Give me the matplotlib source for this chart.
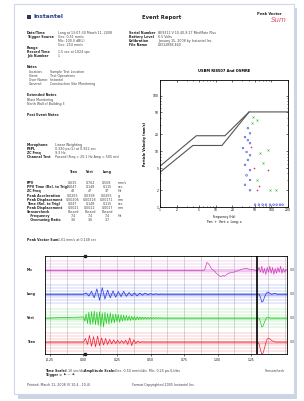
import numpy as np
import matplotlib.pyplot as plt
from matplotlib.patches import Rectangle

W, H = 304, 401

# ---- scatter (frequency Hz vs peak particle velocity mm/s)
tran_freq = [87, 44, 48, 55, 60]
tran_ppv = [4.6, 12.0, 5.0, 2.0, 2.4]
vert_freq = [47, 55, 45, 63, 87, 71, 55, 95, 120]
vert_ppv = [41, 36, 32, 9.3, 10.5, 6.1, 3.05, 2.0, 2.0]
long_freq = [38, 41.5, 33.7, 38, 41.5, 31, 36, 41.5, 38, 33.7, 41.5, 36, 41.5,
             33.7, 41.5, 51, 60, 70, 80, 95, 110, 125, 144, 160]
long_ppv = [26, 21, 18, 15.8, 14, 11.4, 9.7, 8.5, 7, 5.7, 4.6, 3.7, 3.05,
            2.5, 2.0, 1.1, 1.1, 1.1, 1.1, 1.1, 1.1, 1.1, 1.1, 1.1]

usbm_freq = [1, 4.5, 14.7, 40, 200]
usbm_ppv = [5.4, 19.0, 19.0, 50.8, 50.8]
plaster_freq = [1, 3.9, 13, 40]
plaster_ppv = [4.2, 12.7, 12.7, 50.8]

# ---- waveform samples (mm/s for geophones, Pa for mic)
long_burst = [0.0, 0.12, -0.15, 0.25, -0.30, 0.45, -0.50, 0.55, -0.40, 0.35,
              -0.30, 0.28, -0.25, 0.22, -0.20, 0.25, -0.18, 0.15, -0.14, 0.12,
              -0.15, 0.10, -0.08, 0.10, -0.06, 0.05, -0.04, 0.03, -0.02, 0.01, 0.0]
vert_burst = [0.10, -0.25, 0.35, -0.45, 0.50, -0.55, 0.55, -0.50, 0.60, -0.55,
              0.50, -0.60, 0.55, -0.70, 0.45, -0.75, 0.50, -0.45, 0.40, -0.50,
              0.45, -0.40, 0.35, -0.40, 0.35, -0.30, 0.30, -0.35, 0.28, -0.25,
              0.25, -0.22, 0.22, -0.20, 0.18, -0.20, 0.16, -0.15, 0.14, -0.15,
              0.12, -0.12, 0.10, -0.10, 0.09, -0.08, 0.08, -0.07, 0.06, -0.06,
              0.05, -0.05, 0.04, -0.04, 0.04, -0.03, 0.03, -0.02, 0.02, -0.01, 0.0]
tran_burst = [0.0, 0.30, -0.20, 0.55, -0.35, 0.45, -0.40, 0.50, -0.30, 0.35,
              -0.25, 0.30, -0.20, 0.22, -0.15, 0.18, -0.12, 0.15, -0.10, 0.12,
              -0.10, 0.15, -0.20, 0.35, -0.30, 0.20, -0.12, 0.08, -0.05, 0.02, 0.0]
long_check = [0, 0, -0.25, -0.66, -0.58, -0.25, 0, 0.17, 0.17, 0.08, 0, 0,
              0.08, 0.08, 0, 0, 0, 0, 0, 0, 0, 0]
vert_check = [0, 0, -0.33, -0.75, -0.66, -0.33, -0.08, 0.08, 0.08, 0, 0, 0,
              0, 0, 0, 0, 0, 0, 0, 0, 0, 0]
tran_check = [0, -0.17, -0.66, -1.0, -0.91, -0.5, -0.08, 0.25, 0.33, 0.25,
              0.17, 0.08, 0.08, 0, 0, 0, 0, 0, 0, 0, 0, 0]
mic_t = [0.90, 0.91, 0.92, 0.93, 0.94, 0.95, 0.96, 0.97, 0.98, 0.99, 1.00,
         1.01, 1.02, 1.03, 1.04, 1.05, 1.06, 1.07, 1.08, 1.09, 1.10, 1.12,
         1.14, 1.16, 1.18, 1.20, 1.22, 1.24, 1.26, 1.28]
mic_event = [0, 0.12, 0.33, 0.29, 0.21, 0.12, 0.04, 0, -0.04, -0.12, -0.17,
             -0.21, -0.25, -0.25, -0.21, -0.25, -0.21, -0.17, -0.12, -0.12,
             -0.08, -0.08, -0.04, 0, 0.04, 0.08, 0.08, 0.04, 0.04, 0]
mic_check = [0, 0.12, -0.08, 0.17, -0.12, 0.08, -0.17, 0.12, -0.08, 0.17,
             -0.12, 0.12, -0.17, 0.08, -0.12, 0.12, -0.08, 0.17, -0.12, 0.08,
             -0.08, 0.04]

channels = ['Mic', 'Long', 'Vert', 'Tran']
right_labels = ['0.0', '0.0', '0.0', '0.0']
time_ticks = [-0.25, 0.0, 0.25, 0.5, 0.75, 1.0, 1.25]

geo_scale = 2.0   # mm/s per trace unit (0.50 mm/s/div, 4 div)
mic_scale = 1.0   # Pa per trace unit
check_start = 1.30
t_left, t_right = -0.287, 1.518


def px(x, y):
    return x / W, 1 - y / H


fig = plt.figure(figsize=(W / 100, H / 100), dpi=100)
fig.patch.set_facecolor('white')

# page + shadow
fig.add_artist(Rectangle(px(18, 399), 279 / W, 391 / H, transform=fig.transFigure,
                         fc='#b7c3db', ec='none', alpha=0.7, zorder=0))
fig.add_artist(Rectangle(px(14, 394), 280 / W, 390 / H, transform=fig.transFigure,
                         fc='white', ec='#cfd8ea', lw=0.8, zorder=0))

txt = dict(fontsize=2.3, color='#444444', va='center')
bold = dict(txt, fontweight='bold', color='#222222')

# header
fig.add_artist(Rectangle(px(27, 19), 4 / W, 4 / H, transform=fig.transFigure,
                         fc='#333355', ec='none'))
fig.text(*px(34, 17), 'Instantel', fontsize=4.2, fontweight='bold',
         color='#2b3f8c', va='center')
fig.text(*px(162, 17), 'Event Report', fontsize=3.8, fontweight='bold',
         color='#222222', ha='center', va='center')
fig.text(*px(257, 14), 'Peak Vector', fontsize=2.6, fontweight='bold',
         color='#222222', va='center')
fig.text(*px(271, 20), 'Sum', fontsize=5, color='#e0506a', va='center',
         style='italic')

left_rows = [(33, 'Date/Time', 'Long at 13:07:30 March 11, 2008'),
             (37, 'Trigger Source', 'Geo: 0.51 mm/s'),
             (41, '', 'Mic: 100.0 dB(L)'),
             (45, '', 'Geo: 254 mm/s'),
             (48, 'Range', ''),
             (52, 'Record Time', '1.5 sec at 1024 sps'),
             (56, 'Job Number', '1')]
for y, lab, val in left_rows:
    fig.text(*px(27, y), lab, **bold)
    fig.text(*px(58, y), val, **txt)

right_rows = [(33, 'Serial Number', 'BE9312 V 10.40-8.17 MiniMate Plus'),
              (37, 'Battery Level', '6.5 Volts'),
              (41, 'Calibration', 'January 15, 2008 by Instantel Inc.'),
              (45, 'File Name', 'L9312BEK.E40')]
for y, lab, val in right_rows:
    fig.text(*px(129, y), lab, **bold)
    fig.text(*px(158, y), val, **txt)

fig.text(*px(27, 67), 'Notes', **bold)
for y, lab, val in [(72, 'Location:', 'Sample Test Location'),
                    (76, 'Client:', 'Test Operations'),
                    (80, 'User Name:', 'Instantel'),
                    (84, 'General:', 'Construction Site Monitoring')]:
    fig.text(*px(29, y), lab, **txt)
    fig.text(*px(50, y), val, **txt)
fig.text(*px(27, 95), 'Extended Notes', **bold)
fig.text(*px(27, 100), 'Blast Monitoring', **txt)
fig.text(*px(27, 104), 'North Wall of Building 3', **txt)
fig.text(*px(27, 115), 'Post Event Notes', **bold)

for y, lab, val in [(145, 'Microphone', 'Linear Weighting'),
                    (149, 'PSPL', '0.330 pa.(L) at 0.922 sec'),
                    (153, 'ZC Freq', '9.3 Hz'),
                    (157, 'Channel Test', 'Passed (Freq = 20.1 Hz Amp = 505 mv)')]:
    fig.text(*px(27, y), lab, **bold)
    fig.text(*px(55, y), val, **txt)

for x, lab in [(73, 'Tran'), (90, 'Vert'), (107, 'Long')]:
    fig.text(*px(x, 172), lab, ha='center', **bold)
table = [(183, 'PPV', ['0.635', '0.762', '0.508'], 'mm/s'),
         (187, 'PPV Time (Rel. to Trig)', ['0.047', '0.148', '0.115'], 'sec'),
         (191, 'ZC Freq', ['43', '47', '37'], 'Hz'),
         (196, 'Peak Acceleration', ['0.0265', '0.0398', '0.0265'], 'g'),
         (200, 'Peak Displacement', ['0.00206', '0.00218', '0.00171'], 'mm'),
         (204, 'Time (Rel. to Trig)', ['0.047', '0.148', '0.115'], 'sec'),
         (208, 'Peak Displacement', ['0.0021', '0.0022', '0.0017'], 'mm'),
         (212, 'Sensorcheck', ['Passed', 'Passed', 'Passed'], ''),
         (216, '   Frequency', ['7.4', '7.4', '7.4'], 'Hz'),
         (220, '   Overswing Ratio', ['3.6', '3.6', '3.7'], '')]
for y, lab, vals, unit in table:
    fig.text(*px(27, y), lab, **bold)
    for x, v in zip([73, 90, 107], vals):
        fig.text(*px(x, y), v, ha='center', **txt)
    fig.text(*px(118, y), unit, **txt)

fig.text(*px(27, 240), 'Peak Vector Sum', **bold)
fig.text(*px(58, 240), '1.01 mm/s at 0.148 sec', **txt)

# ---- USBM / OSMRE scatter
ax = fig.add_axes([160 / W, 1 - 207 / H, 128 / W, 127 / H])
ax.plot(usbm_freq, usbm_ppv, color='#555555', lw=0.8)
ax.plot(plaster_freq, plaster_ppv, color='#555555', lw=0.8)
ax.scatter(long_freq, long_ppv, s=1.5, marker='o', facecolors='none',
           edgecolors='#3344cc', linewidths=0.4, clip_on=False, zorder=3)
ax.scatter(vert_freq, vert_ppv, s=2, marker='x', color='#33bb33',
           linewidths=0.4, zorder=3)
ax.scatter(tran_freq, tran_ppv, s=2, marker='+', color='#cc3377',
           linewidths=0.4, zorder=3)
ax.set_xscale('log')
ax.set_yscale('log')
ax.set_xlim(1, 200)
ax.set_ylim(1, 190)
ax.set_xticks([1, 2, 5, 10, 20, 50, 100, 200])
ax.set_xticklabels(['1', '2', '5', '10', '20', '50', '100', '200'])
ax.set_yticks([1, 2, 5, 10, 20, 50, 100])
ax.set_yticklabels(['1', '2', '5', '10', '20', '50', '100'])
ax.tick_params(which='both', direction='in', top=True, right=True,
               labelsize=2.2, length=1.5, width=0.4, pad=1)
ax.tick_params(which='minor', length=0.8)
for s in ax.spines.values():
    s.set_linewidth(0.6)
ax.set_title('USBM RI8507 And OSMRE', fontsize=2.6, fontweight='bold', pad=6)
ax.set_ylabel('Particle Velocity (mm/s)', fontsize=2.3, fontweight='bold',
              labelpad=4)
ax.set_xlabel('Frequency (Hz)\nTran: +  Vert: x  Long: o', fontsize=2.2,
              labelpad=2)

# ---- waveform
aw = fig.add_axes([45 / W, 1 - 354 / H, 242 / W, 98 / H])
aw.set_xlim(t_left, t_right)
aw.set_ylim(-0.5, 3.6)
colors = {'Mic': '#d040c0', 'Long': '#2233dd', 'Vert': '#22cc22', 'Tran': '#ee2233'}
offsets = {'Mic': 3, 'Long': 2, 'Vert': 1, 'Tran': 0}

for t in np.arange(-0.25, 1.51, 0.125):
    aw.axvline(t, color='#bbbbbb', lw=0.4, zorder=0)
for name in channels:
    off = offsets[name]
    for d in [-0.375, -0.25, -0.125, 0.125, 0.25, 0.375]:
        aw.axhline(off + d, color=colors[name], lw=0.35, alpha=0.45, zorder=0)
    aw.axhline(off, color=colors[name], lw=2.2, alpha=0.3, zorder=1)

check_t = check_start + np.arange(len(long_check)) * 0.01
for name, burst, dt, check in [('Long', long_burst, 0.02, long_check),
                               ('Vert', vert_burst, 0.01, vert_check),
                               ('Tran', tran_burst, 0.015, tran_check)]:
    bt = np.arange(len(burst)) * dt
    tt = np.concatenate([[t_left], bt, check_t, [t_right]])
    vv = np.concatenate([[0], burst, check, [0]]) / geo_scale
    aw.plot(tt, vv + offsets[name], color=colors[name], lw=0.5, zorder=2)

mt = np.concatenate([[t_left], mic_t, check_t, [t_right]])
mv = np.concatenate([[0], mic_event, mic_check, [0]]) / mic_scale
aw.plot(mt, mv + offsets['Mic'], color=colors['Mic'], lw=0.5, zorder=2)

aw.axvline(1.295, color='black', lw=1.2, zorder=3)
aw.plot([0.011], [3.6], marker='s', ms=2, color='#222222', clip_on=False,
        zorder=4)
aw.plot([0.011], [-0.5], marker='s', ms=2, color='#222222', clip_on=False,
        zorder=4)
aw.set_xticks(time_ticks)
aw.set_xticklabels(['%.2f' % v for v in time_ticks])
aw.set_yticks([])
aw.tick_params(axis='x', labelsize=2.2, length=1.2, width=0.4, pad=1.5)
for s in aw.spines.values():
    s.set_linewidth(0.6)

for name, rl in zip(channels, right_labels):
    x0, y0 = 27 / W, aw.transData.transform((0, offsets[name]))[1] / fig.dpi / (H / 100)
    fig.text(x0, y0, name, **bold)
    fig.text(290 / W, y0, rl, **txt)

fig.text(*px(45, 371), 'Time Scale:', **bold)
fig.text(*px(65, 371), '0.10 sec/div', **txt)
fig.text(*px(84, 371), 'Amplitude Scale:', **bold)
fig.text(*px(115, 371), 'Geo: 0.50 mm/s/div  Mic: 0.25 pa.(L)/div', **txt)
fig.text(*px(265, 371), 'Sensorcheck', **txt)
fig.text(*px(45, 375), 'Trigger =', **bold)
fig.text(*px(64, 375), '\u25b6 \u2014 \u25c0', **txt)
fig.text(*px(27, 385), 'Printed: March 11, 2008 (V 10.4 - 10.4)', **txt)
fig.text(*px(163, 385), 'Format Copyrighted 2005 Instantel Inc.', ha='center', **txt)

fig.savefig('out.png', dpi=100)
